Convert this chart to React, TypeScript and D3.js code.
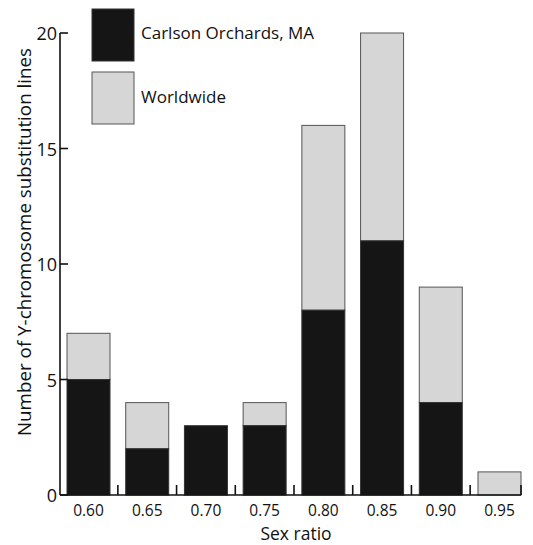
import React from "react";
import * as d3 from "d3";

const categories = ["0.60", "0.65", "0.70", "0.75", "0.80", "0.85", "0.90", "0.95"];
const carlson = [5, 2, 3, 3, 8, 11, 4, 0];
const worldwide = [2, 2, 0, 1, 8, 9, 5, 1];
const yTicks = [0, 5, 10, 15, 20];
const seriesNames = ["Carlson Orchards, MA", "Worldwide"];
const colors = ["#151515", "#d6d6d6"];

const FONT = "'Open Sans', 'Noto Sans', sans-serif";

export default function App() {
  const W = 533, H = 545;
  const x0 = 60, x1 = 521, yBase = 495, yTop = 33;
  const barW = 43;
  const idx = categories.map((_, i) => i);
  const x = d3.scaleLinear().domain([0, 7]).range([88.5, 499.5]);
  const y = d3.scaleLinear().domain([0, 20]).range([yBase, yTop]);
  const step = x(1) - x(0);
  const tickXs = idx.slice(0, 7).map((i) => x(i) + step / 2);

  return (
    <svg width={W} height={H} style={{ position: "absolute", left: 0, top: 0 }} fontFamily={FONT}>
      <rect width={W} height={H} fill="#fff" />
      {idx.map((i) => {
        const b = carlson[i];
        const t = b + worldwide[i];
        return (
          <g key={i}>
            {worldwide[i] > 0 && (
              <rect x={x(i) - barW / 2} y={y(t)} width={barW} height={y(b) - y(t)} fill={colors[1]} stroke="#555" strokeWidth={1} />
            )}
            {b > 0 && (
              <rect x={x(i) - barW / 2} y={y(b)} width={barW} height={y(0) - y(b)} fill={colors[0]} stroke="#333" strokeWidth={1} />
            )}
          </g>
        );
      })}
      {/* axes */}
      <line x1={x0} x2={x0} y1={yTop} y2={yBase} stroke="#111" strokeWidth={1.6} />
      <line x1={x0} x2={x1} y1={yBase} y2={yBase} stroke="#111" strokeWidth={1.6} />
      {yTicks.map((v) => (
        <g key={v}>
          <line x1={x0} x2={x0 + 8} y1={y(v)} y2={y(v)} stroke="#111" strokeWidth={1.6} />
          <text x={x0 - 3} y={y(v) + 7} textAnchor="end" fontSize={18} fill="#111">{v}</text>
        </g>
      ))}
      {[...tickXs, x1].map((tx, i) => (
        <line key={i} x1={tx} x2={tx} y1={yBase} y2={yBase - 10} stroke="#111" strokeWidth={1.6} />
      ))}
      {categories.map((c, i) => (
        <text key={c} x={x(i)} y={516} textAnchor="middle" fontSize={15.5} fill="#111">{c}</text>
      ))}
      <text x={296} y={540} textAnchor="middle" fontSize={17.5} fill="#111">Sex ratio</text>
      <text transform="translate(31,242) rotate(-90)" textAnchor="middle" fontSize={18.8} fill="#111">
        Number of Y-chromosome substitution lines
      </text>
      {/* legend */}
      {seriesNames.map((n, i) => (
        <g key={n}>
          <rect x={92} y={9 + i * 63} width={42} height={52} fill={colors[i]} stroke={i === 0 ? "#333" : "#555"} strokeWidth={1} />
          <text x={141} y={39 + i * 64} fontSize={17} fill="#111">{n}</text>
        </g>
      ))}
    </svg>
  );
}
